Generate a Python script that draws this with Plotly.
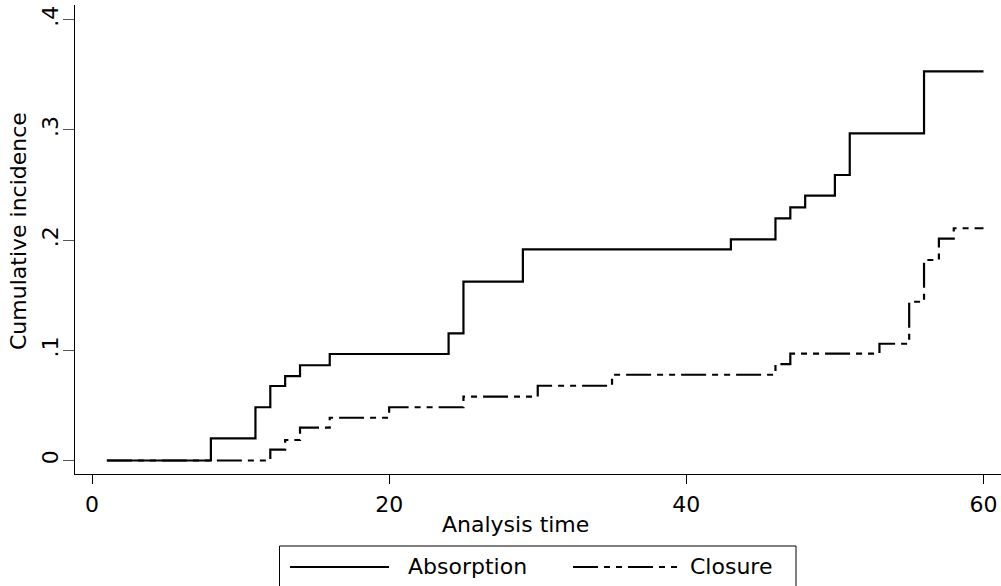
import plotly.graph_objects as go

# ---- data ----
time_absorption = [1, 8, 11, 12, 13, 14, 16, 24, 25, 29, 43, 46, 47, 48, 50, 51, 56, 60]
cif_absorption = [0, 0.0201, 0.0483, 0.0676, 0.0766, 0.0864, 0.0966, 0.1154, 0.1622,
                  0.1916, 0.2006, 0.2197, 0.2297, 0.2402, 0.2590, 0.2968, 0.3530, 0.3530]

time_closure = [1, 12, 13, 14, 16, 20, 25, 30, 35, 46, 47, 53, 55, 56, 57, 58, 60]
cif_closure = [0, 0.0098, 0.0186, 0.0298, 0.0388, 0.0483, 0.0579, 0.0678, 0.0778,
               0.0875, 0.0969, 0.1059, 0.1440, 0.1819, 0.2012, 0.2107, 0.2107]

x_tickvals = [0, 20, 40, 60]
x_ticktext = ["0", "20", "40", "60"]
y_tickvals = [0, 0.1, 0.2, 0.3, 0.4]
y_ticktext = ["0", ".1", ".2", ".3", ".4"]

series_names = ["Absorption", "Closure"]
x_title = "Analysis time"
y_title = "Cumulative incidence"

# ---- layout geometry (pixels) ----
W, H = 1001, 586
ML, MR, MT, MB = 75, 0, 5, 112
PW, PH = W - ML - MR, H - MT - MB
FONT = "DejaVu Sans"
FS = 22
CLOSURE_DASH = "25px,6px,6px,6px,6px,6px"


def px_x(p):
    return (p - ML) / PW


def px_y(p):
    return (H - MB - p) / PH


fig = go.Figure()
fig.add_trace(go.Scatter(x=time_absorption, y=cif_absorption, mode="lines",
                         line=dict(shape="hv", color="black", width=2.2),
                         name=series_names[0], showlegend=False))
fig.add_trace(go.Scatter(x=time_closure, y=cif_closure, mode="lines",
                         line=dict(shape="hv", color="black", width=2.2, dash=CLOSURE_DASH),
                         name=series_names[1], showlegend=False))

fig.update_layout(
    width=W, height=H,
    margin=dict(l=ML, r=MR, t=MT, b=MB, pad=0),
    paper_bgcolor="white", plot_bgcolor="white",
    font=dict(family=FONT, size=FS, color="black"),
    xaxis=dict(range=[-1.145, 61.18], tickvals=x_tickvals, ticktext=x_ticktext,
               showgrid=False, zeroline=False, showline=True, linecolor="black", linewidth=1,
               ticks="outside", ticklen=9, tickcolor="black", tickwidth=1,
               ticklabelstandoff=2, tickfont=dict(family=FONT, size=FS)),
    yaxis=dict(range=[-0.01224, 0.4132], tickvals=y_tickvals, ticktext=y_ticktext,
               showgrid=False, zeroline=False, showline=True, linecolor="black", linewidth=1,
               ticks="outside", ticklen=11, tickcolor="#555", tickwidth=1,
               tickangle=-90, ticklabelstandoff=-4, tickfont=dict(family=FONT, size=FS)),
)

# axis titles
fig.add_annotation(text=x_title, xref="paper", yref="paper", x=px_x(515), y=px_y(524),
                   xanchor="center", yanchor="middle", showarrow=False,
                   font=dict(family=FONT, size=FS))
fig.add_annotation(text=y_title, xref="paper", yref="paper", x=px_x(18), y=px_y(231),
                   xanchor="center", yanchor="middle", showarrow=False, textangle=-90,
                   font=dict(family=FONT, size=FS))

# legend box drawn manually (Stata-style)
fig.add_shape(type="rect", xref="paper", yref="paper",
              x0=px_x(279.5), x1=px_x(796), y0=px_y(546), y1=px_y(592),
              line=dict(color="black", width=1), fillcolor="white")
fig.add_shape(type="line", xref="paper", yref="paper",
              x0=px_x(290), x1=px_x(389), y0=px_y(567), y1=px_y(567),
              line=dict(color="black", width=2))
fig.add_shape(type="line", xref="paper", yref="paper",
              x0=px_x(573), x1=px_x(677), y0=px_y(567), y1=px_y(567),
              line=dict(color="black", width=2, dash=CLOSURE_DASH))
fig.add_annotation(text=series_names[0], xref="paper", yref="paper", x=px_x(406), y=px_y(566),
                   xanchor="left", yanchor="middle", showarrow=False,
                   font=dict(family=FONT, size=FS))
fig.add_annotation(text=series_names[1], xref="paper", yref="paper", x=px_x(688), y=px_y(566),
                   xanchor="left", yanchor="middle", showarrow=False,
                   font=dict(family=FONT, size=FS))

fig.write_html("out.html")
